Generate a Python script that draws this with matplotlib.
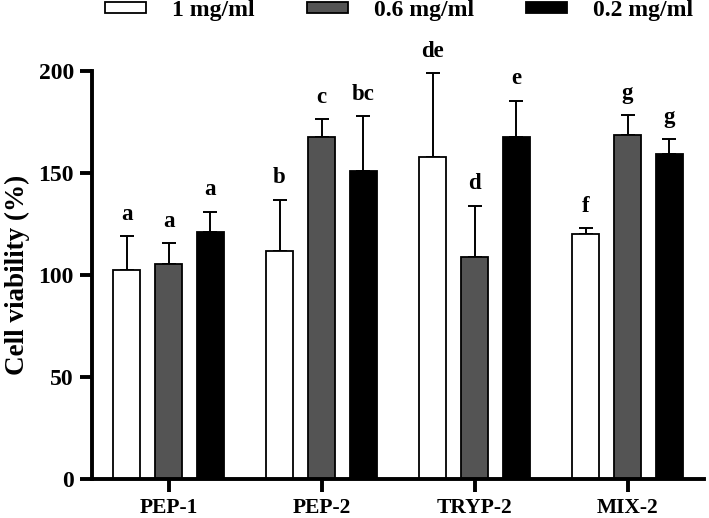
import numpy as np
import matplotlib.pyplot as plt
from matplotlib.patches import Patch

plt.rcParams['font.family'] = ['Liberation Serif', 'DejaVu Serif']
plt.rcParams['font.weight'] = 'bold'

groups = ['PEP-1', 'PEP-2', 'TRYP-2', 'MIX-2']
labels = ['1 mg/ml', '0.6 mg/ml', '0.2 mg/ml']
colors = ['white', '#545454', 'black']

# means and upper SD
mean_1 = [102.5, 112, 158, 120]
mean_06 = [105.5, 167.5, 109, 168.5]
mean_02 = [121, 151, 167.5, 159.5]
err_1 = [16.5, 25, 41, 3]
err_06 = [10, 9, 25, 10]
err_02 = [10, 27, 18, 7]
let_1 = ['a', 'b', 'de', 'f']
let_06 = ['a', 'c', 'd', 'g']
let_02 = ['a', 'bc', 'e', 'g']

means = [mean_1, mean_06, mean_02]
errs = [err_1, err_06, err_02]
lets = [let_1, let_06, let_02]

fig = plt.figure(figsize=(7.09, 5.18), dpi=100)
ax = fig.add_axes([92/709, 39/518, 612/709, 408/518])

x = np.arange(len(groups))
step = 0.2745
w = 0.17
for i in range(3):
    xs = x + (i - 1) * step
    ax.bar(xs, means[i], w, color=colors[i], edgecolor='black', linewidth=1.3, zorder=2)
    ax.errorbar(xs, means[i], yerr=[np.zeros(4), errs[i]], fmt='none', ecolor='black',
                elinewidth=1.4, capsize=5, capthick=1.4, zorder=1)
    for j in range(4):
        ax.text(xs[j], means[i][j] + errs[i][j] + 8, lets[i][j], ha='center', va='baseline',
                fontsize=16.5, fontweight='bold', clip_on=False)

ax.set_xlim(-0.5, 3.5)
ax.set_ylim(0, 200)
ax.set_yticks([0, 50, 100, 150, 200])
ax.set_xticks(x)
ax.set_xticklabels(groups)
ax.tick_params(axis='y', labelsize=17, width=2.8, length=9, pad=4)
ax.tick_params(axis='x', labelsize=15.5, width=2.8, length=9, pad=5)
for lab in ax.get_xticklabels() + ax.get_yticklabels():
    lab.set_fontweight('bold')
for s in ['top', 'right']:
    ax.spines[s].set_visible(False)
for s in ['left', 'bottom']:
    ax.spines[s].set_linewidth(2.8)
ax.set_ylabel('Cell viability (%)', fontsize=19.5, fontweight='bold', labelpad=6)

handles = [Patch(facecolor=c, edgecolor='black', linewidth=1.3) for c in colors]
fig.legend(handles, labels, loc='center', bbox_to_anchor=(0.563, 0.979), ncol=3,
           frameon=False, handlelength=1.75, handleheight=0.35,
           handletextpad=1.1, columnspacing=2.2, prop={'weight': 'bold', 'size': 17})

fig.savefig('out.png', dpi=100)
